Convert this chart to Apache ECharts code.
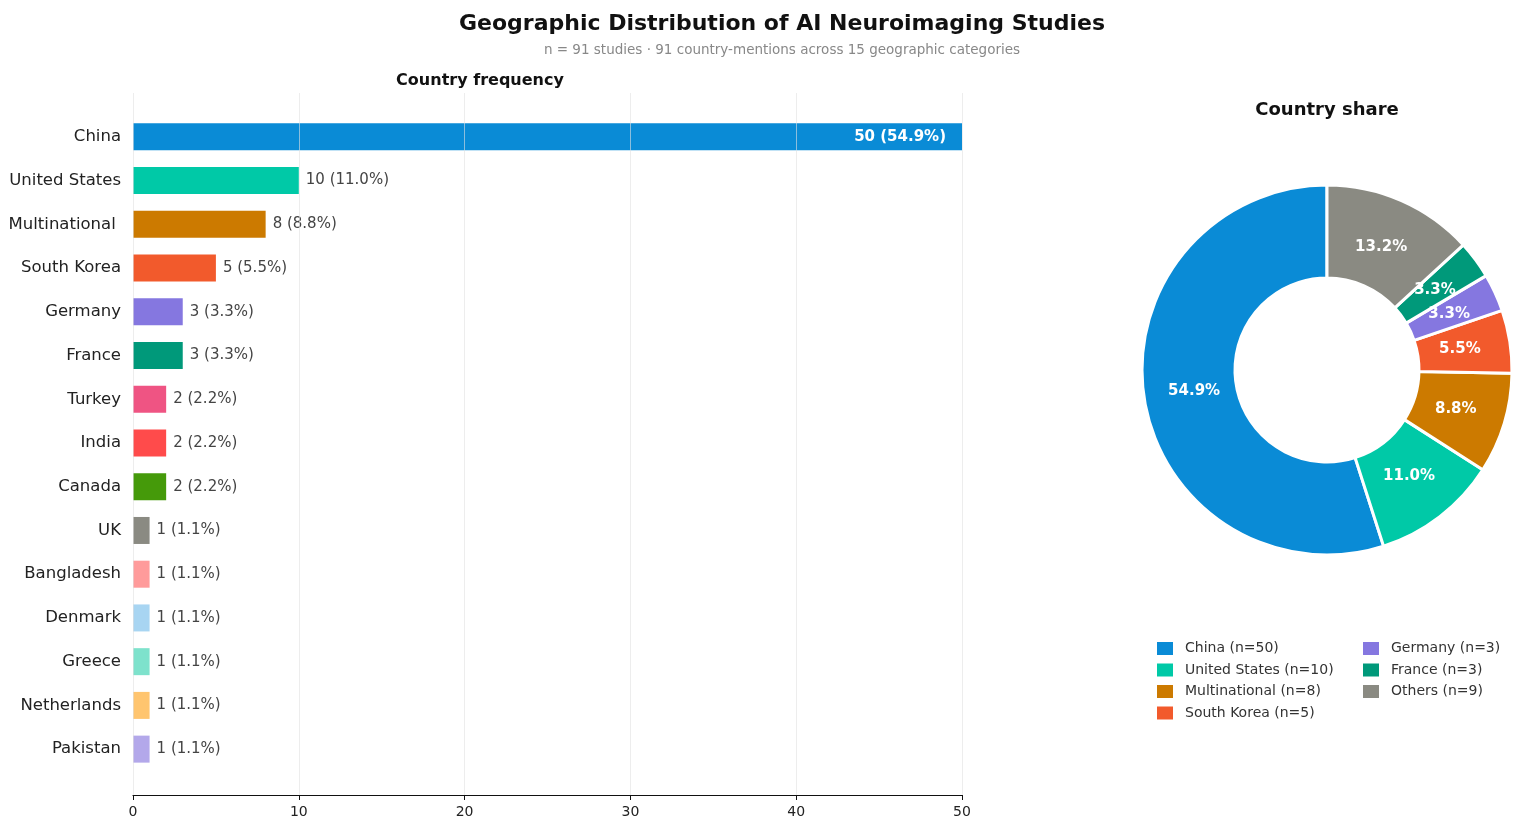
<!DOCTYPE html>
<html>
<head>
<meta charset="utf-8">
<script src="https://cdn.jsdelivr.net/npm/echarts@6/dist/echarts.min.js"></script>
<style>
html,body{margin:0;padding:0;background:#fff;}
#chart{width:1525px;height:828px;}
</style>
</head>
<body>
<div id="chart"></div>
<script>
// ---- data ----
const countries = ['China','United States','Multinational ','South Korea','Germany','France','Turkey','India','Canada','UK','Bangladesh','Denmark','Greece','Netherlands','Pakistan'];
const counts = [50,10,8,5,3,3,2,2,2,1,1,1,1,1,1];
const barColors = ['#0a8bd6','#00c9a7','#cc7a00','#f25a2c','#8577e0','#00997a','#ef5483','#ff4b4b','#459a0a','#8a8a82','#ff9b9b','#a8d5f2','#7ee2cc','#ffc56f','#b3a8ea'];
const totalMentions = 91;

const pieNames = ['China','United States','Multinational','South Korea','Germany','France','Others'];
const pieValues = [50,10,8,5,3,3,12];
const pieLegendN = [50,10,8,5,3,3,9];
const pieColors = ['#0a8bd6','#00c9a7','#cc7a00','#f25a2c','#8577e0','#00997a','#8a8a82'];

const xTicks = [0,10,20,30,40,50];

const titleText = 'Geographic Distribution of AI Neuroimaging Studies';
const subText = 'n = 91 studies \u00b7 91 country-mentions across 15 geographic categories';

// ---- chart ----
const FONT = 'DejaVu Sans';
const chart = echarts.init(document.getElementById('chart'));
const pct = v => (v / totalMentions * 100).toFixed(1);

const barData = counts.map((v, i) => {
  const d = { value: v, itemStyle: { color: barColors[i] } };
  if (i === 0) {
    d.label = { position: 'insideRight', color: '#fff', fontWeight: 'bold', distance: 16 };
  }
  return d;
});

const pieData = pieNames.map((n, i) => ({ name: n, value: pieValues[i], itemStyle: { color: pieColors[i] } }));
const pieLabelData = pieNames.map((n, i) => ({ name: n, value: pieValues[i] }));
const legendMap = {};
pieNames.forEach((n, i) => { legendMap[n] = n + ' (n=' + pieLegendN[i] + ')'; });

const legendCommon = {
  orient: 'vertical',
  padding: 0,
  itemWidth: 18,
  itemHeight: 15,
  itemGap: 4.5,
  icon: 'rect',
  textStyle: { fontFamily: FONT, fontSize: 14, color: '#333', padding: [0, 0, 0, 6] },
  formatter: n => legendMap[n]
};
const legendItems = (from, to) => pieNames.slice(from, to).map((n, k) => ({
  name: n, itemStyle: { color: pieColors[from + k] }
}));

const CX = 1327, CY = 370, R0 = 92, R1 = 185;

chart.setOption({
  backgroundColor: '#fff',
  animation: false,
  textStyle: { fontFamily: FONT },
  title: [
    {
      text: titleText, subtext: subText,
      left: 777, top: 8, textAlign: 'center', itemGap: 8,
      textStyle: { fontFamily: FONT, fontSize: 22, fontWeight: 'bold', color: '#111' },
      subtextStyle: { fontFamily: FONT, fontSize: 13.5, color: '#888' }
    },
    {
      text: 'Country frequency', left: 475, top: 68, textAlign: 'center',
      textStyle: { fontFamily: FONT, fontSize: 16, fontWeight: 'bold', color: '#111' }
    },
    {
      text: 'Country share', left: 1322, top: 96, textAlign: 'center',
      textStyle: { fontFamily: FONT, fontSize: 18, fontWeight: 'bold', color: '#111' }
    }
  ],
  legend: [
    Object.assign({}, legendCommon, { left: 1155, top: 640, data: legendItems(0, 4) }),
    Object.assign({}, legendCommon, { left: 1361, top: 640, data: legendItems(4) })
  ],
  grid: [
    { left: 133, right: 563, top: 115, bottom: 57 },
    { left: 133, right: 563, top: 93, bottom: 33 }
  ],
  xAxis: [
    { type: 'value', gridIndex: 0, min: 0, max: 50, show: false },
    {
      type: 'value', gridIndex: 1, min: xTicks[0], max: xTicks[xTicks.length - 1], interval: 10, z: 5,
      axisLine: { show: true, lineStyle: { color: '#111', width: 1.2 } },
      axisTick: { show: true, length: 5, lineStyle: { color: '#111' } },
      axisLabel: { fontFamily: FONT, fontSize: 14, color: '#222', margin: 10 },
      splitLine: { show: true, lineStyle: { color: 'rgba(225,225,225,0.6)', width: 1 } }
    }
  ],
  yAxis: [
    {
      type: 'category', gridIndex: 0, data: countries, inverse: true,
      axisLine: { show: false }, axisTick: { show: false },
      axisLabel: { fontFamily: FONT, fontSize: 16.5, color: '#222', margin: 12 }
    },
    { type: 'value', gridIndex: 1, min: 0, max: 1, show: false }
  ],
  series: [
    {
      type: 'bar', xAxisIndex: 0, yAxisIndex: 0, data: barData, barWidth: 27,
      label: {
        show: true, position: 'right', distance: 7,
        fontFamily: FONT, fontSize: 15, color: '#444',
        formatter: p => p.value + ' (' + pct(p.value) + '%)'
      }
    },
    {
      type: 'pie', name: 'Country share', center: [CX, CY], radius: [R0, R1],
      startAngle: 90, clockwise: false, data: pieData,
      itemStyle: { borderColor: '#fff', borderWidth: 3 },
      label: { show: false },
      labelLine: { show: false },
      emphasis: { disabled: true }, silent: true
    },
    {
      type: 'pie', name: 'labels', center: [CX, CY], radius: [78, R1],
      startAngle: 90, clockwise: false, data: pieLabelData, z: 3,
      itemStyle: { color: 'rgba(0,0,0,0)', borderWidth: 0 },
      label: {
        show: true, position: 'inside', color: '#fff', fontWeight: 'bold',
        fontFamily: FONT, fontSize: 15,
        formatter: p => pct(p.value) + '%'
      },
      labelLine: { show: false },
      emphasis: { disabled: true }, silent: true
    }
  ]
});
</script>
</body>
</html>
